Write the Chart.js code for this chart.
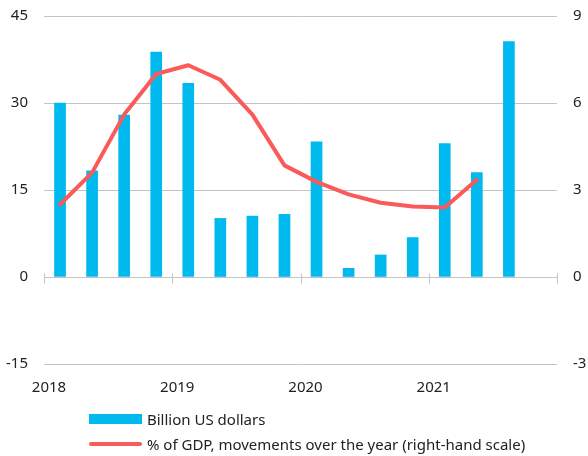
<!DOCTYPE html>
<html>
<head>
<meta charset="utf-8">
<script src="https://cdn.jsdelivr.net/npm/chart.js@4.4.1/dist/chart.umd.min.js"></script>
<style>
  body { margin: 0; background: #fff; font-family: "Noto Sans", sans-serif; }
  #wrap { position: relative; width: 588px; height: 456px; }
  #legend { position: absolute; left: 89px; top: 406px; font-size: 15px; color: #222; }
  .item { display: flex; align-items: center; height: 25px; }
  .swatch { width: 53px; margin-right: 5px; }
</style>
</head>
<body>
<div id="wrap">
  <canvas id="chart" width="588" height="456"></canvas>
  <div id="legend">
    <div class="item"><span class="swatch" style="height:10px;background:#00b9ee"></span>Billion US dollars</div>
    <div class="item"><span class="swatch" style="height:4px;border-radius:2px;background:#fa5a5a"></span>% of GDP, movements over the year (right-hand scale)</div>
  </div>
</div>
<script>
  // Quarterly data, 2018 Q1 - 2021 Q4
  const quarters = ['2018 Q1', '2018 Q2', '2018 Q3', '2018 Q4',
                    '2019 Q1', '2019 Q2', '2019 Q3', '2019 Q4',
                    '2020 Q1', '2020 Q2', '2020 Q3', '2020 Q4',
                    '2021 Q1', '2021 Q2', '2021 Q3', '2021 Q4'];
  const billionUSD = [30.0, 18.3, 27.9, 38.8, 33.4, 10.1, 10.5, 10.8,
                      23.3, 1.5, 3.8, 6.8, 23.0, 18.0, 40.6, null];
  const pctGDP = [2.5, 3.6, 5.6, 7.0, 7.3, 6.8, 5.6, 3.85,
                  3.28, 2.85, 2.56, 2.43, 2.4, 3.35, null, null];
  const leftTicks = [-15, 0, 15, 30, 45];
  const rightTicks = [-3, 0, 3, 6, 9];

  // Draws the zero line and the small year tick marks on it
  const yearTicks = {
    id: 'yearTicks',
    afterDatasetsDraw(chart) {
      const x = chart.scales.x, y = chart.scales.y;
      const ctx = chart.ctx;
      const y0 = Math.round(y.getPixelForValue(0)) + 0.5;
      const half = (x.getPixelForValue(1) - x.getPixelForValue(0)) / 2;
      ctx.save();
      ctx.strokeStyle = '#c4c4c4';
      ctx.lineWidth = 1;
      ctx.beginPath();
      ctx.moveTo(chart.chartArea.left, y0);
      ctx.lineTo(chart.chartArea.right, y0);
      for (let i = 0; i <= quarters.length; i += 4) {
        const px = Math.round(x.getPixelForValue(Math.min(i, quarters.length - 1)) + (i === quarters.length ? half : -half)) + 0.5;
        ctx.moveTo(px, y0 - 4);
        ctx.lineTo(px, y0 + 6);
      }
      ctx.stroke();
      ctx.restore();
    }
  };

  const font = { family: '"Noto Sans", sans-serif', size: 15 };

  // fixed axis width, and only half a label of room above the top tick
  const fitAxis = w => s => { s.width = w; s.paddingTop = 9; s.paddingBottom = 9; };

  new Chart(document.getElementById('chart'), {
    type: 'bar',
    data: {
      labels: quarters,
      datasets: [
        {
          type: 'line',
          label: '% of GDP, movements over the year (right-hand scale)',
          data: pctGDP,
          yAxisID: 'y1',
          borderColor: '#fa5a5a',
          borderWidth: 4,
          pointRadius: 0,
          tension: 0,
          borderJoinStyle: 'round',
          borderCapStyle: 'round',
          order: 0
        },
        {
          label: 'Billion US dollars',
          data: billionUSD,
          yAxisID: 'y',
          backgroundColor: '#00b9ee',
          barThickness: 11,
          order: 1
        }
      ]
    },
    options: {
      responsive: false,
      animation: false,
      layout: { padding: { top: 16, left: 0, right: 0, bottom: 44 } },
      plugins: { legend: { display: false }, tooltip: { enabled: false } },
      scales: {
        x: {
          grid: { display: false, drawTicks: false },
          border: { display: false },
          ticks: {
            font, color: '#222', padding: 15, maxRotation: 0, autoSkip: false,
            labelOffset: -11,
            callback: (v, i) => (i % 4 === 0 ? quarters[i].slice(0, 4) : '')
          }
        },
        y: {
          position: 'left',
          min: -15, max: 45,
          afterBuildTicks: s => { s.ticks = leftTicks.map(v => ({ value: v })); },
          afterFit: fitAxis(44),
          grid: { color: '#c4c4c4', drawTicks: false },
          border: { display: false },
          ticks: { font, color: '#222', padding: 16 }
        },
        y1: {
          position: 'right',
          min: -3, max: 9,
          afterBuildTicks: s => { s.ticks = rightTicks.map(v => ({ value: v })); },
          afterFit: fitAxis(31),
          grid: { drawOnChartArea: false, drawTicks: false },
          border: { display: false },
          ticks: { font, color: '#222', padding: 16 }
        }
      }
    },
    plugins: [yearTicks]
  });
</script>
</body>
</html>
